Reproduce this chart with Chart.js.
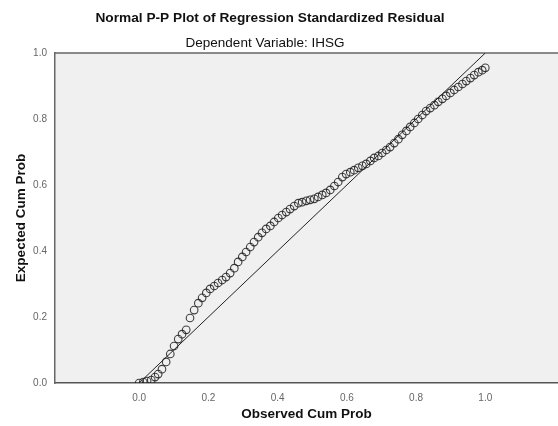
<!DOCTYPE html>
<html>
<head>
<meta charset="utf-8">
<script src="https://cdn.jsdelivr.net/npm/chart.js@4"></script>
<style>
  body { margin: 0; background: #fff; }
  #wrap { width: 558px; height: 426px; }
</style>
</head>
<body>
<div id="wrap"><canvas id="chart"></canvas></div>
<script>
// observed cum prob (x) and expected cum prob (y)
const observed = [0.000, 0.012, 0.023, 0.035, 0.046, 0.055, 0.066, 0.078, 0.090, 0.101,
  0.113, 0.124, 0.136, 0.147, 0.159, 0.171, 0.182, 0.194, 0.205, 0.217,
  0.228, 0.240, 0.251, 0.263, 0.275, 0.286, 0.298, 0.309, 0.321, 0.332,
  0.344, 0.355, 0.367, 0.379, 0.390, 0.402, 0.413, 0.425, 0.436, 0.448,
  0.460, 0.471, 0.483, 0.494, 0.506, 0.517, 0.529, 0.540, 0.552, 0.564,
  0.575, 0.587, 0.598, 0.610, 0.621, 0.633, 0.645, 0.656, 0.668, 0.679,
  0.691, 0.702, 0.714, 0.725, 0.737, 0.749, 0.760, 0.772, 0.783, 0.795,
  0.806, 0.818, 0.829, 0.841, 0.853, 0.864, 0.876, 0.887, 0.899, 0.910,
  0.922, 0.934, 0.945, 0.957, 0.968, 0.980, 0.991, 1.000];
const expected = [0.000, 0.003, 0.006, 0.009, 0.018, 0.027, 0.042, 0.064, 0.088, 0.112,
  0.133, 0.148, 0.161, 0.197, 0.221, 0.242, 0.258, 0.273, 0.285, 0.294,
  0.303, 0.312, 0.321, 0.333, 0.348, 0.367, 0.382, 0.397, 0.412, 0.427,
  0.442, 0.455, 0.467, 0.476, 0.488, 0.500, 0.509, 0.518, 0.527, 0.536,
  0.545, 0.548, 0.552, 0.555, 0.558, 0.564, 0.570, 0.576, 0.585, 0.597,
  0.609, 0.624, 0.633, 0.639, 0.645, 0.652, 0.658, 0.664, 0.673, 0.682,
  0.688, 0.697, 0.706, 0.715, 0.727, 0.739, 0.752, 0.764, 0.776, 0.788,
  0.800, 0.812, 0.824, 0.833, 0.842, 0.852, 0.861, 0.870, 0.879, 0.888,
  0.897, 0.906, 0.915, 0.924, 0.933, 0.942, 0.948, 0.955];
const refLine = [[0, 0], [1, 1]];
const xTicks = [0, 0.2, 0.4, 0.6, 0.8, 1.0];
const yTicks = [0, 0.2, 0.4, 0.6, 0.8, 1.0];

const titleText = 'Normal P-P Plot of Regression Standardized Residual';
const subtitleText = 'Dependent Variable: IHSG';

const FONT = "'Liberation Sans', Arial, sans-serif";

// grey plot background, top frame line and the two heading lines
const plotFrame = {
  id: 'plotFrame',
  beforeDraw(chart) {
    const { ctx, chartArea: a } = chart;
    ctx.save();
    ctx.fillStyle = '#f0f0f0';
    ctx.fillRect(a.left, a.top, a.right - a.left, a.bottom - a.top);
    ctx.strokeStyle = '#666';
    ctx.lineWidth = 1.5;
    ctx.beginPath();
    ctx.moveTo(a.left, a.top);
    ctx.lineTo(a.right, a.top);
    ctx.stroke();

    ctx.fillStyle = '#111';
    ctx.textAlign = 'center';
    ctx.textBaseline = 'middle';
    ctx.font = 'bold 13.7px ' + FONT;
    ctx.fillText(titleText, 270, 18);
    ctx.font = '13.5px ' + FONT;
    ctx.fillText(subtitleText, 265, 43);
    ctx.restore();
  }
};

new Chart(document.getElementById('chart'), {
  type: 'scatter',
  data: {
    datasets: [
      {
        label: 'Residuals',
        data: observed.map((x, i) => ({ x: x, y: expected[i] })),
        pointStyle: 'circle',
        pointRadius: 3.8,
        pointBorderWidth: 1.1,
        pointBorderColor: 'rgba(30,30,30,0.85)',
        pointBackgroundColor: 'rgba(0,0,0,0)'
      },
      {
        label: 'Reference',
        data: refLine.map(p => ({ x: p[0], y: p[1] })),
        showLine: true,
        borderColor: '#222',
        borderWidth: 1,
        pointRadius: 0
      }
    ]
  },
  options: {
    responsive: true,
    maintainAspectRatio: false,
    animation: false,
    layout: { autoPadding: false, padding: { top: 53, left: 9, right: 0, bottom: 0 } },
    plugins: {
      legend: { display: false },
      tooltip: { enabled: false }
    },
    scales: {
      x: {
        type: 'linear',
        min: -0.243,
        max: 1.21,
        afterBuildTicks: s => { s.ticks = xTicks.map(v => ({ value: v })); },
        afterFit: s => { s.height = 43; s.paddingLeft = 0; s.paddingRight = 0; },
        grid: { display: false, drawTicks: true, tickLength: 7, tickColor: '#444', tickWidth: 1.5 },
        border: { color: '#555', width: 1.5 },
        ticks: {
          color: '#666',
          font: { family: FONT, size: 10 },
          padding: 2,
          maxRotation: 0,
          callback: v => v.toFixed(1)
        },
        title: {
          display: true,
          text: 'Observed Cum Prob',
          color: '#111',
          font: { family: FONT, size: 13.5, weight: 'bold' },
          padding: { top: 1 }
        }
      },
      y: {
        type: 'linear',
        min: 0,
        max: 1,
        afterBuildTicks: s => { s.ticks = yTicks.map(v => ({ value: v })); },
        afterFit: s => { s.width = 46; },
        grid: { display: false, drawTicks: true, tickLength: 6, tickColor: '#444', tickWidth: 1.5 },
        border: { color: '#666', width: 1.5 },
        ticks: {
          color: '#666',
          font: { family: FONT, size: 10 },
          padding: 2,
          callback: v => v.toFixed(1)
        },
        title: {
          display: true,
          text: 'Expected Cum Prob',
          color: '#111',
          font: { family: FONT, size: 13.5, weight: 'bold' },
          padding: { bottom: 2 }
        }
      }
    }
  },
  plugins: [plotFrame]
});
</script>
</body>
</html>
